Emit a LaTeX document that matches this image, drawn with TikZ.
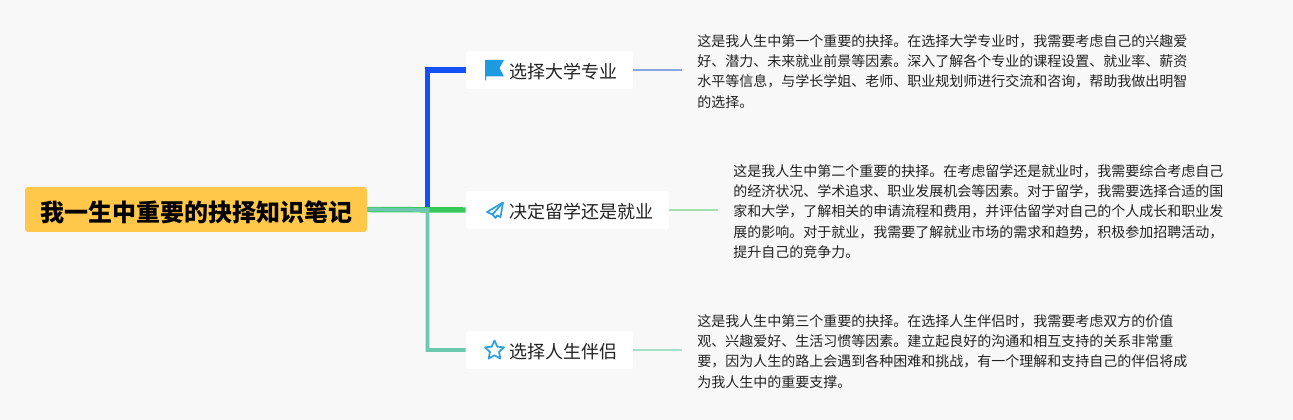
\documentclass[tikz,border=0pt]{standalone}
\usepackage{fontspec}
\setmainfont{Noto Sans CJK SC}
\usepackage{tikz}
\usetikzlibrary{positioning, shapes.geometric}

\definecolor{canvasbg}{HTML}{F8F8F9}
\definecolor{rootfill}{HTML}{FFC84A}
\definecolor{linkblue}{HTML}{1450F5}
\definecolor{linkgreen}{HTML}{36C95A}
\definecolor{linkteal}{HTML}{6CC8AE}
\definecolor{leafblue}{HTML}{8CA5E0}
\definecolor{leafgreen}{HTML}{A0E0B4}
\definecolor{leafteal}{HTML}{A8E0CC}
\definecolor{iconblue}{HTML}{2E9FE0}
\definecolor{flagblue}{HTML}{1E9BE0}
\definecolor{inktext}{HTML}{222222}

\tikzset{
rootbox/.style={fill=rootfill, rounded corners=2.2pt, minimum width=256.5pt, minimum height=33.75pt, inner sep=0pt, text height=18pt, text depth=0.5pt, font=\bfseries\fontsize{18}{22}\selectfont},
branchbox/.style={fill=white, rounded corners=2.2pt, minimum height=28.5pt, inner xsep=12pt, inner ysep=0pt, text height=13pt, text depth=0.8pt, font=\fontsize{13.5}{16}\selectfont, text=inktext},
notetext/.style={anchor=west, inner xsep=11.25pt, inner ysep=0pt, align=left, text=inktext, font=\fontsize{10.5}{15.15}\selectfont},
icon/.style={draw=iconblue, line width=1.3pt, line join=round},
}

\begin{document}
\begin{tikzpicture}[x=0.75pt, y=-0.75pt]

\fill[canvasbg] (0,0) rectangle (1293,420); % whole page
\useasboundingbox (0,0) rectangle (1293,420);

\node[rootbox] (root) at (196,209.5) {\hspace{1.5pt}我一生中重要的抉择知识笔记};
\node[branchbox] (major) at (549.5,70) {\hspace{20.25pt}选择大学专业};
\node[branchbox] (study) at (567.5,210) {\hspace{20.25pt}决定留学还是就业};
\node[branchbox] (partner) at (549.5,350) {\hspace{20.25pt}选择人生伴侣};

\node[notetext] (majornote) at (682,71.5) {这是我人生中第一个重要的抉择。在选择大学专业时，我需要考虑自己的兴趣爱\\
好、潜力、未来就业前景等因素。深入了解各个专业的课程设置、就业率、薪资\\
水平等信息，与学长学姐、老师、职业规划师进行交流和咨询，帮助我做出明智\\
的选择。};
\node[notetext] (studynote) at (718,211.5) {这是我人生中第二个重要的抉择。在考虑留学还是就业时，我需要综合考虑自己\\
的经济状况、学术追求、职业发展机会等因素。对于留学，我需要选择合适的国\\
家和大学，了解相关的申请流程和费用，并评估留学对自己的个人成长和职业发\\
展的影响。对于就业，我需要了解就业市场的需求和趋势，积极参加招聘活动，\\
提升自己的竞争力。};
\node[notetext] (partnernote) at (682,351.5) {这是我人生中第三个重要的抉择。在选择人生伴侣时，我需要考虑双方的价值\\
观、兴趣爱好、生活习惯等因素。建立起良好的沟通和相互支持的关系非常重\\
要，因为人生的路上会遇到各种困难和挑战，有一个理解和支持自己的伴侣将成\\
为我人生中的重要支撑。};

\coordinate (trunk) at (427.5,210);

% main branches
\draw[linkblue, line width=4.1pt] (trunk) |- (major.west);
\draw[linkgreen, line width=4.1pt] (root.east) -- (study.west);
\draw[linkteal, line width=2.8pt] (root.east) -- (trunk) |- (partner.west);

% leaf lines
\draw[leafblue, line width=1.5pt] (major.east) -- (major.east -| majornote.west);
\draw[leafgreen, line width=1.5pt] (study.east) -- (study.east -| studynote.west);
\draw[leafteal, line width=1.5pt] (partner.east) -- (partner.east -| partnernote.west);

% icons
\fill[flagblue] (485,60) -- (504,60) -- (499.5,68) -- (504,76.5) -- (486,76.5) -- (486,80.5) -- (485,80.5) -- cycle;
\draw[icon] (503,202.5) -- (487,212) -- (492.5,214.5) -- (495.5,218) -- (497,215.5) -- (500.5,217) -- cycle;
\draw[icon] (503,202.5) -- (492.5,214.5);
\node[star, star points=5, star point ratio=2.1, icon, minimum size=15pt, inner sep=0pt] (staricon) at (494.5,350.5) {};

\end{tikzpicture}
\end{document}
